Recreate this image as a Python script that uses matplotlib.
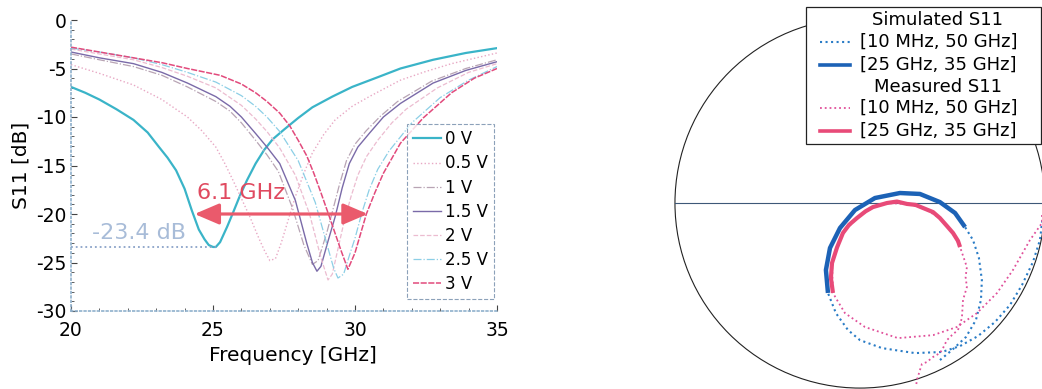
import matplotlib.pyplot as plt
from matplotlib.patches import Circle, Rectangle
from matplotlib.lines import Line2D

plt.rcParams['font.family'] = ['DejaVu Sans']
plt.rcParams['axes.unicode_minus'] = False

# ---- S11 [dB] vs frequency, one curve per bias voltage
f_0v = [20, 20.5, 21, 21.6, 22.2, 22.7, 23.1, 23.4, 23.7, 24.0, 24.25, 24.5, 24.7, 24.85, 25.0, 25.1, 25.25, 25.5,
        25.7, 25.95, 26.2, 26.5, 26.8, 27.1, 27.5, 28.0, 28.5, 29.2, 29.9, 30.8, 31.6, 32.75, 33.9, 35]
s_0v = [-6.9, -7.5, -8.2, -9.2, -10.3, -11.6, -13.1, -14.2, -15.5, -17.4, -19.6, -21.6, -22.6, -23.2, -23.4, -23.4,
        -22.9, -21.3, -19.9, -18.1, -16.5, -14.8, -13.4, -12.3, -11.3, -10.1, -9.0, -7.9, -6.9, -5.9, -5.0, -4.1,
        -3.4, -2.9]

f_05v = [20, 21, 22.2, 23.2, 24.1, 24.6, 25.1, 25.4, 25.7, 26.0, 26.3, 26.6, 26.8, 27.0, 27.2, 27.4, 27.65, 27.9,
         28.2, 28.5, 28.9, 29.3, 29.9, 30.5, 31.6, 32.5, 33.4, 35]
s_05v = [-4.6, -5.5, -6.7, -8.2, -10.0, -11.4, -13.1, -14.7, -16.5, -18.4, -20.3, -22.4, -23.7, -24.8, -24.6, -23.0,
         -20.6, -18.2, -15.8, -13.7, -11.8, -10.3, -8.9, -7.9, -6.2, -5.3, -4.5, -3.4]

f_1v = [20, 21, 22.2, 23.2, 24.1, 25.1, 25.6, 26.0, 26.5, 26.9, 27.3, 27.8, 28.2, 28.5, 28.7, 29.0, 29.2, 29.45,
        29.7, 30.0, 30.4, 30.9, 31.5, 32.7, 33.9, 35]
s_1v = [-3.5, -4.1, -4.8, -5.7, -6.9, -8.4, -9.4, -10.6, -12.4, -13.9, -15.6, -19.4, -23.2, -25.2, -24.8, -22.0,
        -19.8, -17.0, -14.5, -12.8, -11.4, -9.9, -8.4, -6.3, -5.0, -4.1]

f_15v = [20, 21, 22.2, 23.2, 24.1, 25.1, 25.6, 26.0, 26.5, 26.9, 27.35, 27.9, 28.3, 28.5, 28.66, 28.8, 29.05, 29.3,
         29.55, 29.8, 30.1, 30.5, 31.0, 31.6, 32.75, 33.9, 35]
s_15v = [-3.3, -3.9, -4.5, -5.4, -6.5, -7.9, -8.9, -10.0, -11.7, -13.1, -14.8, -18.6, -23.0, -25.0, -25.9, -25.4,
         -22.8, -20.3, -17.3, -14.8, -13.1, -11.7, -10.0, -8.6, -6.5, -5.2, -4.3]

f_2v = [20, 21, 22.2, 23.2, 24.1, 25.1, 26.0, 26.5, 26.9, 27.35, 27.9, 28.4, 28.8, 29.05, 29.2, 29.4, 29.6, 29.85,
        30.1, 30.4, 30.8, 31.3, 31.8, 32.9, 34, 35]
s_2v = [-3.0, -3.5, -4.1, -4.9, -5.8, -7.0, -8.8, -10.2, -11.5, -13.2, -16.0, -20.0, -24.5, -26.8, -26.2, -23.6,
        -21.0, -18.3, -16.0, -14.1, -12.4, -10.6, -9.2, -7.0, -5.4, -4.5]

f_25v = [20, 21, 22.2, 23.2, 24.1, 25.1, 26.0, 26.5, 26.9, 27.35, 28.0, 28.6, 29.0, 29.25, 29.4, 29.6, 29.8, 30.0,
         30.25, 30.5, 30.8, 31.2, 32.0, 33.0, 34.0, 35]
s_25v = [-2.9, -3.3, -3.9, -4.6, -5.4, -6.4, -7.8, -8.9, -10.0, -11.5, -14.5, -18.8, -23.0, -25.6, -26.6, -26.2,
         -24.3, -22.5, -19.8, -17.5, -15.4, -13.5, -10.6, -8.0, -6.2, -4.8]

f_3v = [20, 21, 22.2, 23.2, 24.1, 25.25, 26.0, 26.5, 26.9, 27.35, 27.7, 28.0, 28.3, 28.55, 28.8, 29.1, 29.5, 29.75,
        30.0, 30.2, 30.4, 30.7, 31.0, 31.6, 32.4, 33.4, 34.2, 35]
s_3v = [-2.8, -3.3, -3.9, -4.4, -5.0, -5.7, -6.6, -7.5, -8.4, -9.6, -10.9, -12.4, -14.0, -15.8, -17.8, -20.3, -23.7,
        -25.7, -24.0, -22.0, -20.0, -17.8, -15.8, -12.7, -10.1, -7.5, -6.0, -5.0]

labels = ['0 V', '0.5 V', '1 V', '1.5 V', '2 V', '2.5 V', '3 V']
freqs = [f_0v, f_05v, f_1v, f_15v, f_2v, f_25v, f_3v]
s11 = [s_0v, s_05v, s_1v, s_15v, s_2v, s_25v, s_3v]
colors = ['#3ab4c8', '#e8a8c4', '#b8a4b4', '#7a6aa8', '#ecbcd0', '#8ccfe6', '#e24a7c']
styles = ['-', ':', '-.', '-', '--', '-.', (0, (4, 1))]
widths = [1.6, 1.0, 0.9, 1.0, 0.9, 0.9, 1.1]

min_0v = -23.4
f_min_0v = 25.1
tune_start, tune_end = 24.35, 30.45

# ---- Smith chart traces (reflection coefficient, real / imag)
sim_re = [0.989, 0.973, 0.935, 0.876, 0.811, 0.730, 0.638, 0.541, 0.443, 0.297, 0.119, 0.0, -0.065, -0.130, -0.173,
          -0.184, -0.162, -0.108, -0.027, 0.081, 0.216, 0.324, 0.432, 0.514, 0.568,
          0.611, 0.643, 0.659, 0.654, 0.627, 0.573, 0.497, 0.432]
sim_im = [-0.065, -0.200, -0.319, -0.443, -0.551, -0.643, -0.719, -0.773, -0.805, -0.811, -0.784, -0.741, -0.686,
          -0.595, -0.486, -0.362, -0.243, -0.135, -0.038, 0.027, 0.054, 0.049, 0.005, -0.054, -0.130,
          -0.200, -0.297, -0.416, -0.524, -0.632, -0.724, -0.795, -0.849]
sim_band_re = [-0.173, -0.184, -0.162, -0.108, -0.027, 0.081, 0.216, 0.324, 0.432, 0.514, 0.568]
sim_band_im = [-0.486, -0.362, -0.243, -0.135, -0.038, 0.027, 0.054, 0.049, 0.005, -0.054, -0.130]

meas_re = [0.984, 0.984, 0.919, 0.827, 0.741, 0.632, 0.524, 0.395, 0.205, 0.027, -0.081, -0.124, -0.146,
           -0.151, -0.092, -0.016, 0.070, 0.146, 0.254, 0.341, 0.432, 0.503, 0.541,
           0.578, 0.571, 0.578, 0.557, 0.551, 0.530, 0.497, 0.470, 0.449, 0.432, 0.395, 0.362, 0.335, 0.324,
           0.308, 0.303]
meas_im = [-0.065, -0.108, -0.200, -0.362, -0.486, -0.595, -0.670, -0.714, -0.730, -0.670, -0.595, -0.524, -0.486,
           -0.324, -0.162, -0.081, -0.022, 0.0, -0.005, -0.027, -0.081, -0.162, -0.238,
           -0.346, -0.400, -0.454, -0.524, -0.622, -0.686, -0.714, -0.741, -0.784, -0.811, -0.832, -0.859, -0.870,
           -0.903, -0.957, -0.989]
meas_band_re = [-0.146, -0.157, -0.151, -0.124, -0.092, -0.059, -0.016, 0.030, 0.070, 0.146, 0.200, 0.254, 0.300,
                0.341, 0.395, 0.432, 0.470, 0.503, 0.530, 0.541]
meas_band_im = [-0.486, -0.405, -0.324, -0.240, -0.162, -0.118, -0.081, -0.045, -0.022, 0.0, 0.008, -0.005, -0.010,
                -0.027, -0.049, -0.081, -0.124, -0.162, -0.205, -0.238]

fig = plt.figure(figsize=(10.42, 3.89), dpi=100)

# ---------------- left: S11 vs frequency
ax = fig.add_axes([71 / 1042, 1 - 311 / 389, 426 / 1042, 291 / 389])
for fr, s, lab, c, ls, lw in zip(freqs, s11, labels, colors, styles, widths):
    ax.plot(fr, s, color=c, linestyle=ls, linewidth=lw, label=lab)

ax.plot([20, f_min_0v], [min_0v, min_0v], color='#8aa2c8', linestyle=':', linewidth=1.3)
ax.text(22.4, -22.0, '-23.4 dB', color='#a8bcd8', fontsize=16, ha='center', va='center')
ax.annotate('', xy=(tune_end, -20), xytext=(tune_start, -20),
            arrowprops=dict(arrowstyle='<|-|>,head_length=0.75,head_width=0.32', color='#ea5a6c', lw=2.3,
                            mutation_scale=20, shrinkA=0, shrinkB=0))
ax.text(26.0, -17.8, '6.1 GHz', color='#e04a60', fontsize=16, ha='center', va='center')

ax.set_xlim(20, 35)
ax.set_ylim(-30, 0)
ax.set_xticks([20, 25, 30, 35])
ax.set_yticks([0, -5, -10, -15, -20, -25, -30])
ax.set_xticks(range(20, 36), minor=True)
ax.set_yticks(range(-30, 1), minor=True)
ax.tick_params(which='both', direction='in', labelsize=13.5, colors='#444444', labelcolor='black')
ax.tick_params(which='major', length=4)
ax.tick_params(which='minor', length=2)
ax.tick_params(axis='x', pad=7)
ax.tick_params(axis='y', pad=3)
for side in ['top', 'right']:
    ax.spines[side].set_visible(False)
for side in ['left', 'bottom']:
    ax.spines[side].set_color('#8fb0cc')
    ax.spines[side].set_linestyle(':')
    ax.spines[side].set_linewidth(1.2)
ax.set_xlabel('Frequency [GHz]', fontsize=14.5)
ax.set_ylabel('S11 [dB]', fontsize=14.5)
ax.xaxis.set_label_coords(0.52, -0.12)
ax.yaxis.set_label_coords(-0.096, 0.5)

leg = ax.legend(loc='lower right', bbox_to_anchor=(0.993, 0.041), fontsize=12, frameon=True,
                fancybox=False, handlelength=1.7, handletextpad=0.25, labelspacing=0.37,
                borderpad=0.35, borderaxespad=0)
leg.get_frame().set_edgecolor('#6f8aa8')
leg.get_frame().set_linestyle('--')
leg.get_frame().set_linewidth(0.8)

# ---------------- right: Smith chart
ax2 = fig.add_axes([640 / 1042, 0, 402 / 1042, 1])
ax2.set_xlim(-1.189, 0.984)
ax2.set_ylim(-1.005, 1.097)
ax2.axis('off')
ax2.add_patch(Circle((0, 0), 1, fill=False, edgecolor='#222222', linewidth=0.8))
ax2.plot([-1, 1], [0, 0], color='#3d5878', linewidth=0.8)

ax2.plot(sim_re, sim_im, color='#2a7cc6', linestyle=':', linewidth=1.5)
ax2.plot(sim_band_re, sim_band_im, color='#1c62b6', linewidth=3.2, solid_capstyle='butt')
ax2.plot(meas_re, meas_im, color='#e0509a', linestyle=':', linewidth=1.3)
ax2.plot(meas_band_re, meas_band_im, color='#e84a78', linewidth=3.0, solid_capstyle='butt')

# legend box drawn in axes fraction
tr = ax2.transAxes
ax2.add_patch(Rectangle((0.413, 0.630), 0.585, 0.352, transform=tr, facecolor='white', edgecolor='#222222',
                        linewidth=0.9, zorder=5))
rows = [0.949, 0.892, 0.833, 0.776, 0.722, 0.663]
entries = [('Simulated S11', None, None, None),
           ('[10 MHz, 50 GHz]', '#2a7cc6', ':', 1.5),
           ('[25 GHz, 35 GHz]', '#1c62b6', '-', 2.6),
           ('Measured S11', None, None, None),
           ('[10 MHz, 50 GHz]', '#e0509a', ':', 1.3),
           ('[25 GHz, 35 GHz]', '#e84a78', '-', 2.6)]
for yy, (txt, c, ls, lw) in zip(rows, entries):
    if c is None:
        ax2.text(0.741, yy, txt, transform=tr, fontsize=13, ha='center', va='center', zorder=6)
    else:
        ax2.add_line(Line2D([0.448, 0.522], [yy, yy], transform=tr, color=c, linestyle=ls, linewidth=lw,
                            zorder=6))
        ax2.text(0.547, yy, txt, transform=tr, fontsize=13, ha='left', va='center', zorder=6)

plt.savefig('out.png', dpi=100)
